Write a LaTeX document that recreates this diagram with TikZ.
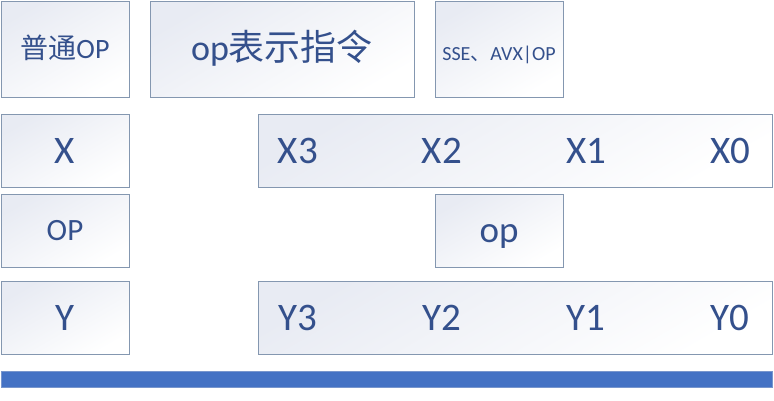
\documentclass[tikz,border=0pt]{standalone}
\usepackage{fontspec}
\setmainfont{Carlito}
\newfontfamily\cjk{Noto Sans CJK SC}
\usepackage{tikz}
\usetikzlibrary{positioning,backgrounds}
\definecolor{boxline}{RGB}{132,151,176}
\definecolor{boxfill}{RGB}{232,235,243}
\definecolor{boxtext}{RGB}{52,80,140}
\definecolor{barblue}{RGB}{68,114,196}
\definecolor{barline}{RGB}{120,150,205}

\begin{document}
\begin{tikzpicture}[x=1pt,y=-1pt,
  box/.style={draw=boxline,line width=0.9pt,top color=boxfill,bottom color=white,
    shading angle=30,rectangle,inner sep=0pt,text=boxtext},
  big/.style={font=\fontsize{39pt}{44pt}\selectfont},
  lbl/.style={text=boxtext,inner sep=0pt,big}]
\useasboundingbox (0,0) rectangle (774,400);
% top row
\node[box,minimum width=128pt,minimum height=96pt,font=\fontsize{28pt}{32pt}\selectfont,
  text height=18pt,text depth=0pt] (plainop) at (65,49) {{\cjk 普通}OP};
\node[box,minimum width=264pt,minimum height=96pt,font=\fontsize{36pt}{40pt}\selectfont,
  text height=22pt,text depth=0pt] (opmeans) at (282,49) {op{\cjk 表示指令}};
\node[box,minimum width=128pt,minimum height=96pt,font=\fontsize{20pt}{24pt}\selectfont,
  text height=22pt,text depth=0pt] (simdop) at (499,49) {SSE{\cjk 、}AVX|OP};
% X
\node[box,big,minimum width=128pt,minimum height=73pt] (x) at (65,150.5) {X};
\node[box,minimum width=514pt,minimum height=73pt] (xrow) at (515,150.5) {};
\node[lbl] (x3) at (298,150.5) {X3};
\node[lbl] (x2) at (442,150.5) {X2};
\node[lbl] (x1) at (586,150.5) {X1};
\node[lbl] (x0) at (730,150.5) {X0};
% OP
\node[box,minimum width=128pt,minimum height=73pt,font=\fontsize{31pt}{36pt}\selectfont,
  text height=20pt,text depth=0pt] (op) at (65,230.5) {OP};
\node[box,minimum width=128pt,minimum height=73pt,font=\fontsize{37pt}{42pt}\selectfont,
  text height=23pt,text depth=0pt] (lop) at (499,230.5) {op};
% Y
\node[box,big,minimum width=128pt,minimum height=73pt] (y) at (65,317.5) {Y};
\node[box,minimum width=514pt,minimum height=73pt] (yrow) at (515,317.5) {};
\node[lbl] (y3) at (298,317.5) {Y3};
\node[lbl] (y2) at (442,317.5) {Y2};
\node[lbl] (y1) at (586,317.5) {Y1};
\node[lbl] (y0) at (730,317.5) {Y0};
% bar
\node[draw=barline,line width=0.8pt,fill=barblue,minimum width=771pt,minimum height=16pt,
  inner sep=0pt] (bar) at (386.5,379) {};
\end{tikzpicture}
\end{document}
